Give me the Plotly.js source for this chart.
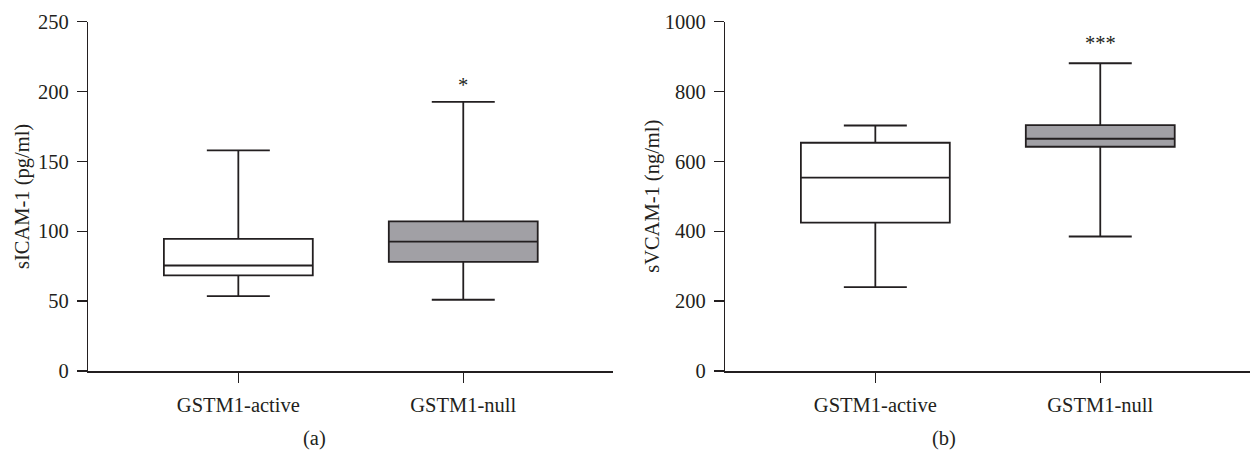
<!DOCTYPE html>
<html>
<head>
<meta charset="utf-8">
<script src="https://cdn.plot.ly/plotly-3.0.1.min.js"></script>
<style>
html,body{margin:0;padding:0;background:#fff;}
#chart{width:1252px;height:452px;}
</style>
</head>
<body>
<div id="chart"></div>
<script>
// ---- data ----
const groups = ["GSTM1-active", "GSTM1-null"];

// Panel (a): sICAM-1 (pg/ml)
const icamLower  = [53.6, 51.0];
const icamQ1     = [68.4, 78.1];
const icamMedian = [75.5, 92.6];
const icamQ3     = [94.6, 107.1];
const icamUpper  = [157.9, 192.6];
const icamSig    = ["", "*"];
const icamSigY   = [null, 205];

// Panel (b): sVCAM-1 (ng/ml)
const vcamLower  = [240, 385];
const vcamQ1     = [424.9, 642];
const vcamMedian = [553.4, 664.9];
const vcamQ3     = [653.4, 704];
const vcamUpper  = [702.9, 881];
const vcamSig    = ["", "***"];
const vcamSigY   = [null, 938];

const icamTicks = [0, 50, 100, 150, 200, 250];
const vcamTicks = [0, 200, 400, 600, 800, 1000];

const panelLabels = ["(a)", "(b)"];
const yTitles = ["sICAM-1 (pg/ml)", "sVCAM-1 (ng/ml)"];

// ---- styling ----
const fills = ["#ffffff", "#a1a0a5"];
const lineCol = "#231f20";
const fontFam = "'Liberation Serif', 'DejaVu Serif', serif";
const fs = 20.5;

function boxTraces(lo, q1, med, q3, up, xa, ya) {
  return groups.map((g, i) => ({
    type: "box",
    x: [g],
    lowerfence: [lo[i]],
    q1: [q1[i]],
    median: [med[i]],
    q3: [q3[i]],
    upperfence: [up[i]],
    xaxis: xa, yaxis: ya,
    fillcolor: fills[i],
    line: {color: lineCol, width: 1.8},
    width: 0.662,
    whiskerwidth: 0.423,
    boxpoints: false,
    showlegend: false,
    hoverinfo: "skip"
  }));
}

const traces = [
  ...boxTraces(icamLower, icamQ1, icamMedian, icamQ3, icamUpper, "x", "y"),
  ...boxTraces(vcamLower, vcamQ1, vcamMedian, vcamQ3, vcamUpper, "x2", "y2")
];

const tickFont = {family: fontFam, size: fs, color: lineCol};

function xAxis(domain, anchor) {
  return {
    domain: domain, anchor: anchor,
    type: "category", categoryarray: groups,
    range: [-0.667, 1.667],
    showline: true, linecolor: lineCol, linewidth: 1.5,
    ticks: "outside", ticklen: 10, tickwidth: 1.5, tickcolor: lineCol,
    tickfont: tickFont, ticklabelstandoff: 5,
    showgrid: false, zeroline: false, fixedrange: true
  };
}
function yAxis(anchor, ticks) {
  return {
    domain: [0.1792, 0.9520], anchor: anchor,
    range: [ticks[0], ticks[ticks.length - 1]],
    tickvals: ticks, ticktext: ticks.map(String),
    showline: true, linecolor: lineCol, linewidth: 1.5,
    ticks: "outside", ticklen: 10, tickwidth: 1.5, tickcolor: lineCol,
    tickfont: tickFont, ticklabelstandoff: 4,
    showgrid: false, zeroline: false, fixedrange: true
  };
}

const annFont = {family: fontFam, size: fs, color: lineCol};
const annotations = [];
// significance markers
groups.forEach((g, i) => {
  if (icamSig[i]) annotations.push({xref: "x", yref: "y", x: g, y: icamSigY[i], text: icamSig[i], showarrow: false, font: annFont, yanchor: "middle"});
  if (vcamSig[i]) annotations.push({xref: "x2", yref: "y2", x: g, y: vcamSigY[i], text: vcamSig[i], showarrow: false, font: annFont, yanchor: "middle"});
});
// y-axis titles
annotations.push({xref: "paper", yref: "paper", x: 22.7 / 1252, y: 0.5656, text: yTitles[0], textangle: -90, showarrow: false, font: annFont, xanchor: "center", yanchor: "middle"});
annotations.push({xref: "paper", yref: "paper", x: 652.5 / 1252, y: 0.5656, text: yTitles[1], textangle: -90, showarrow: false, font: annFont, xanchor: "center", yanchor: "middle"});
// panel labels
annotations.push({xref: "paper", yref: "paper", x: 314 / 1252, y: (452 - 438) / 452, text: panelLabels[0], showarrow: false, font: annFont, xanchor: "center", yanchor: "middle"});
annotations.push({xref: "paper", yref: "paper", x: 944 / 1252, y: (452 - 438) / 452, text: panelLabels[1], showarrow: false, font: annFont, xanchor: "center", yanchor: "middle"});

const layout = {
  width: 1252, height: 452,
  margin: {l: 0, r: 0, t: 0, b: 0},
  paper_bgcolor: "#ffffff", plot_bgcolor: "#ffffff",
  boxmode: "overlay",
  showlegend: false,
  xaxis: xAxis([88.3 / 1252, 613.3 / 1252], "y"),
  yaxis: yAxis("x", icamTicks),
  xaxis2: xAxis([725.3 / 1252, 1250.3 / 1252], "y2"),
  yaxis2: yAxis("x2", vcamTicks),
  annotations: annotations,
  font: {family: fontFam, color: lineCol}
};

Plotly.newPlot("chart", traces, layout, {staticPlot: true, displayModeBar: false});
</script>
</body>
</html>
